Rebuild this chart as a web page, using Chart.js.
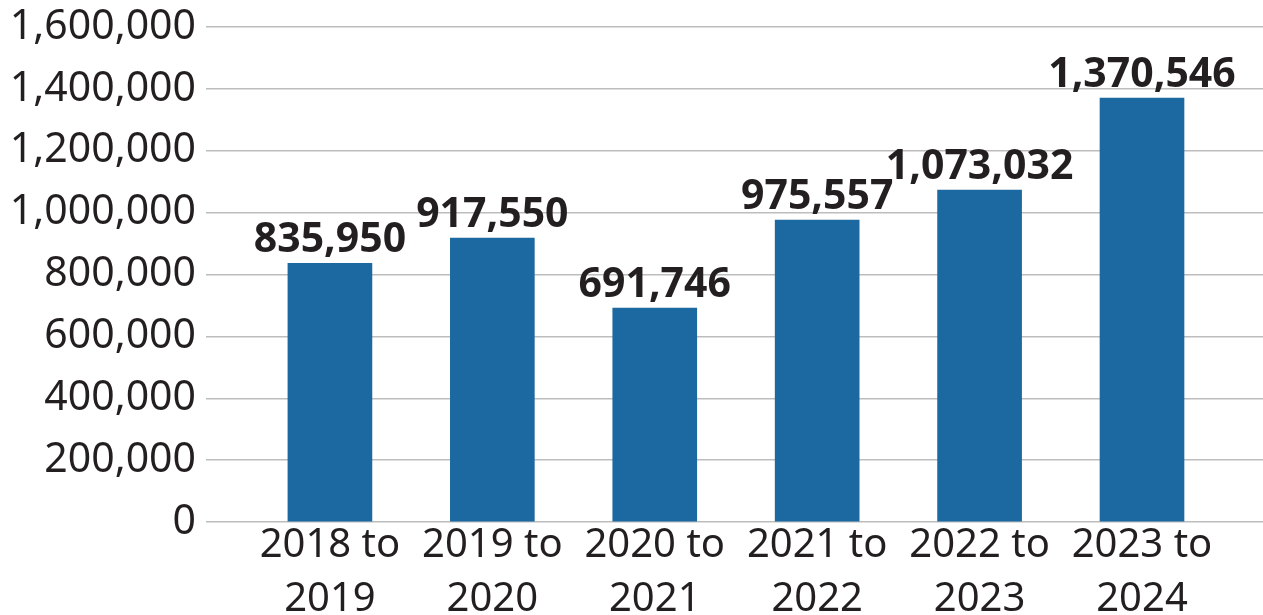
<!DOCTYPE html>
<html>
<head>
<meta charset="utf-8">
<script src="https://cdn.jsdelivr.net/npm/chart.js@4/dist/chart.umd.min.js"></script>
<style>
html,body{margin:0;padding:0;background:#fff;}
#wrap{width:1263px;height:615px;position:relative;}
</style>
</head>
<body>
<div id="wrap"><canvas id="c"></canvas></div>
<script>
const categories = ['2018 to 2019','2019 to 2020','2020 to 2021','2021 to 2022','2022 to 2023','2023 to 2024'];
const values = [835950, 917550, 691746, 975557, 1073032, 1370546];
const yTicks = [0, 200000, 400000, 600000, 800000, 1000000, 1200000, 1400000, 1600000];

const TEXT = '#231f20';
const FONT = "'Noto Sans', 'Open Sans', sans-serif";
const fmt = v => v.toLocaleString('en-US');

const labelPlugin = {
  id: 'valueLabels',
  afterDatasetsDraw(chart) {
    const ctx = chart.ctx;
    const meta = chart.getDatasetMeta(0);
    ctx.save();
    ctx.font = "bold 41px " + FONT;
    ctx.fillStyle = TEXT;
    ctx.textAlign = 'center';
    ctx.textBaseline = 'alphabetic';
    meta.data.forEach((el, i) => {
      ctx.fillText(fmt(values[i]), el.x, el.y - 11);
    });
    ctx.restore();
  }
};

new Chart(document.getElementById('c'), {
  type: 'bar',
  data: {
    datasets: [{
      data: values.map((v, i) => ({x: i, y: v})),
      backgroundColor: '#1c69a1',
      borderWidth: 0,
      barThickness: 84
    }]
  },
  options: {
    responsive: true,
    maintainAspectRatio: false,
    animation: false,
    layout: {padding: {top: 27, right: 0, left: 0, bottom: 0}},
    plugins: {legend: {display: false}, tooltip: {enabled: false}},
    scales: {
      x: {
        type: 'linear',
        offset: false,
        min: -0.763,
        max: 5.745,
        grid: {display: false, offset: false},
        border: {display: false},
        afterBuildTicks(scale) {
          scale.ticks = categories.map((c, i) => ({value: i}));
        },
        afterFit(scale) { scale.height = 93; },
        ticks: {
          autoSkip: false,
          maxRotation: 0,
          padding: -11,
          color: TEXT,
          font: {family: FONT, size: 40, lineHeight: 1.35},
          callback: (v) => {
            const c = categories[v];
            if (c === undefined) return '';
            const p = c.split(' to ');
            return [p[0] + ' to', p[1]];
          }
        }
      },
      y: {
        min: 0,
        max: 1600000,
        border: {display: false},
        grid: {color: '#bdbdbd', lineWidth: 1.5, drawTicks: false},
        afterBuildTicks(scale) {
          scale.ticks = yTicks.map(v => ({value: v}));
        },
        afterFit(scale) { scale.width = 206; scale.paddingTop = 0; scale.paddingBottom = 0; },
        ticks: {
          padding: 10,
          color: TEXT,
          font: {family: FONT, size: 41},
          callback: v => fmt(v)
        }
      }
    }
  },
  plugins: [labelPlugin]
});
</script>
</body>
</html>
